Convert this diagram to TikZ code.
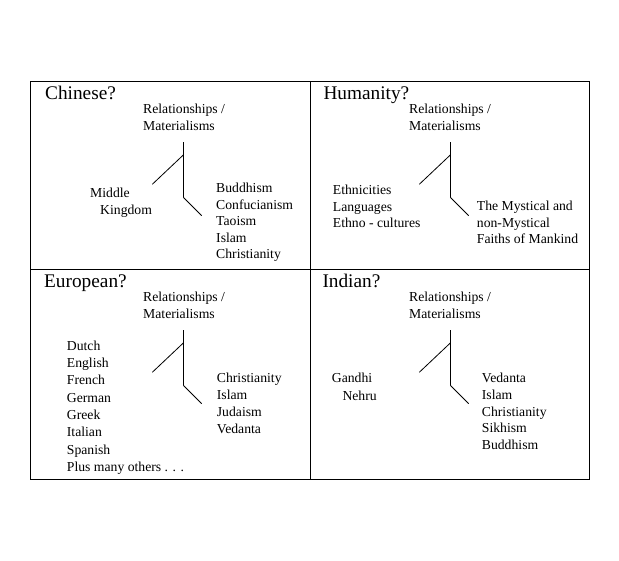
\documentclass[tikz,border=0pt]{standalone}
\usepackage{fontspec}
\setmainfont{Liberation Serif}
\tikzset{
  lbl/.style={anchor=base west, inner sep=0pt, font=\fontsize{13.7}{16}\selectfont},
  head/.style={anchor=base west, inner sep=0pt, font=\fontsize{19.3}{21}\selectfont},
  frame/.style={draw=black, line width=1pt},
  branch/.style={draw=black, line width=0.8pt},
}
\newcommand{\mylist}[5]{% prefix, x, first baseline, step, list
  \foreach \t [count=\i] in {#5} {
    \node[lbl] (#1\i) at (#2, {#3+(\i-1)*#4}) {\t};
  }%
}
\newcommand{\mytree}[3]{% prefix, x of stem, y of top
  \coordinate (#1top) at (#2, #3);
  \coordinate (#1mid) at (#2, {#3+12.7});
  \coordinate (#1bot) at (#2, {#3+55});
  \coordinate (#1left) at ({#2-31}, {#3+42});
  \coordinate (#1right) at ({#2+18.4}, {#3+73.4});
  \draw[branch] (#1top) -- (#1bot);
  \draw[branch] (#1mid) -- (#1left);
  \draw[branch] (#1bot) -- (#1right);
}
\begin{document}
\begin{tikzpicture}[x=1pt,y=-1pt]
\useasboundingbox (0,0) rectangle (619,561);
% frame
\coordinate (tl) at (30.5,82);
\coordinate (br) at (589.5,479);
\coordinate (mt) at (310.7,82);
\coordinate (mb) at (310.7,479);
\coordinate (ml) at (30.5,270);
\coordinate (mr) at (589.5,270);
\draw[frame] (tl) rectangle (br);
\draw[frame] (mt) -- (mb);
\draw[frame] (ml) -- (mr);

% Chinese
\node[head] (chinese) at (45,100) {Chinese?};
\mylist{cr}{143}{114}{16.3}{Relationships /,Materialisms}
\mytree{ct}{183.3}{142.3}
\node[lbl] (middle) at (90,198) {Middle};
\node[lbl] (kingdom) at (100,214.5) {Kingdom};
\mylist{cf}{216}{193}{16.4}{Buddhism,Confucianism,Taoism,Islam,Christianity}

% Humanity
\node[head] (humanity) at (323.3,99.5) {Humanity?};
\mylist{hr}{409}{114}{16.3}{Relationships /,Materialisms}
\mytree{ht}{450.3}{142.3}
\mylist{he}{332.7}{195}{16.5}{Ethnicities,Languages,Ethno - cultures}
\mylist{hf}{476.7}{211}{16.5}{The Mystical and,non-Mystical,Faiths of Mankind}

% European
\node[head] (european) at (44,288) {European?};
\mylist{er}{143}{302}{16.3}{Relationships /,Materialisms}
\mytree{et}{183.3}{330.3}
\mylist{el}{66.7}{350.3}{17.3}{Dutch,English,French,German,Greek,Italian,Spanish,Plus many others . . .}
\mylist{ef}{216.7}{383}{16.7}{Christianity,Islam,Judaism,Vedanta}

% Indian
\node[head] (indian) at (322.3,288) {Indian?};
\mylist{ir}{409}{302}{16.3}{Relationships /,Materialisms}
\mytree{it}{450.3}{330.3}
\node[lbl] (gandhi) at (331.7,383) {Gandhi};
\node[lbl] (nehru) at (342.3,401) {Nehru};
\mylist{if}{481.7}{383}{16.6}{Vedanta,Islam,Christianity,Sikhism,Buddhism}
\end{tikzpicture}
\end{document}
